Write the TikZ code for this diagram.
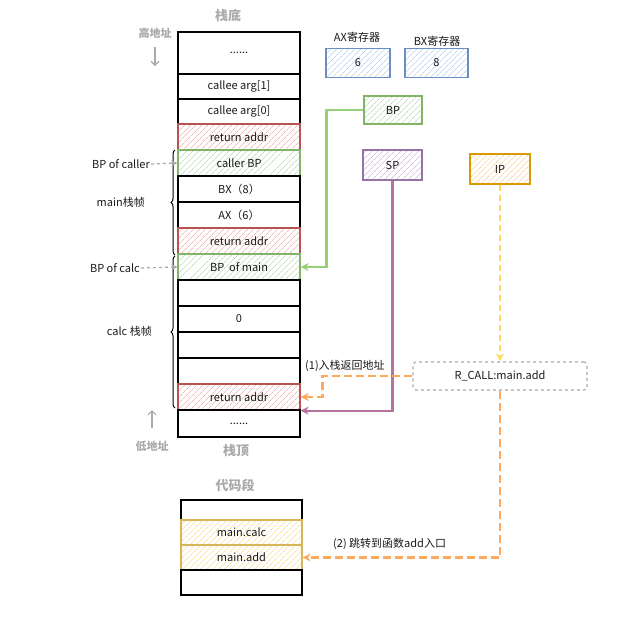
\documentclass[tikz,border=0pt]{standalone}
\usepackage{fontspec}
\setmainfont{Noto Sans CJK SC}
\usetikzlibrary{patterns.meta,arrows.meta,decorations.pathreplacing,calc}
\definecolor{redS}{HTML}{B85450}\definecolor{redF}{HTML}{F2B8B5}
\definecolor{grnS}{HTML}{82B366}\definecolor{grnF}{HTML}{C2DDBE}
\definecolor{bluS}{HTML}{6C8EBF}\definecolor{bluF}{HTML}{BCD3F3}
\definecolor{purS}{HTML}{9673A6}\definecolor{purF}{HTML}{D2C0DC}
\definecolor{orgS}{HTML}{D79B00}\definecolor{orgF}{HTML}{FFD3A8}
\definecolor{ylwS}{HTML}{D6B656}\definecolor{ylwF}{HTML}{F8E0A0}
\definecolor{txt}{HTML}{1A1A1A}
\definecolor{gry}{HTML}{AAAAAA}
\definecolor{arrOrg}{HTML}{FFA95E}
\definecolor{arrYlw}{HTML}{FFD966}
\definecolor{arrGrn}{HTML}{97D077}
\definecolor{arrPur}{HTML}{B5739D}
\tikzset{
  cell/.style={draw=black, line width=1.2pt, minimum width=122pt, inner sep=0pt, text=txt, font=\fontsize{11}{13}\selectfont},
  hatch/.style 2 args={draw=#1, pattern={Lines[angle=45,distance=4pt,line width=0.7pt]}, pattern color=#2},
  regbox/.style={line width=1.2pt, minimum width=60pt, minimum height=29pt, inner sep=0pt, text=txt, font=\fontsize{11}{13}\selectfont},
  lbl/.style={text=txt, font=\fontsize{11}{13}\selectfont, inner sep=1pt},
  glbl/.style={text=gry, font=\fontsize{11}{13}\selectfont\bfseries, inner sep=1pt},
  ttl/.style={text=gry, font=\fontsize{13}{15}\selectfont\bfseries, inner sep=1pt},
  tip/.style={-{Stealth[length=8pt,width=8pt,inset=2.5pt]}},
  bracestyle/.style={decorate, decoration={brace, amplitude=4pt, mirror}, draw=black, line width=1pt},
}
\begin{document}
\begin{tikzpicture}[x=1pt,y=-1pt]
\useasboundingbox[fill=white] (0,0) rectangle (619,622);

% titles
\node[ttl] (tbottom) at (228,16) {栈底};
\node[glbl] (hi) at (155,33) {高地址};
\coordinate (hiA) at (155,47);
\coordinate (hiB) at (155,66);
\draw[gry, line width=1.1pt, -{Straight Barb[length=4pt]}] (hiA) -- (hiB);
\node[glbl] (lo) at (152,446) {低地址};
\coordinate (loA) at (152,428);
\coordinate (loB) at (152,410);
\draw[gry, line width=1.1pt, -{Straight Barb[length=4pt]}] (loA) -- (loB);
\node[ttl] (ttop) at (236,451) {栈顶};
\node[ttl] (tcode) at (235,485) {代码段};

% stack
\node[cell, minimum height=42pt] (dots1) at (239,53) {......};
\node[cell, minimum height=25pt] (arg1) at (239,86.5) {callee arg[1]};
\node[cell, minimum height=25pt] (arg0) at (239,111.5) {callee arg[0]};
\node[cell, minimum height=26pt, hatch={redS}{redF}] (ret1) at (239,137) {return addr};
\node[cell, minimum height=26pt, hatch={grnS}{grnF}] (cbp) at (239,163) {caller BP};
\node[cell, minimum height=26pt] (bx) at (239,189) {BX（8）};
\node[cell, minimum height=26pt] (ax) at (239,215) {AX（6）};
\node[cell, minimum height=26pt, hatch={redS}{redF}] (ret2) at (239,241) {return addr};
\node[cell, minimum height=26pt, hatch={grnS}{grnF}] (bpmain) at (239,267) {BP\ \ of main};
\node[cell, minimum height=26pt] (e1) at (239,293) {};
\node[cell, minimum height=26pt] (zero) at (239,319) {0};
\node[cell, minimum height=26pt] (e2) at (239,345) {};
\node[cell, minimum height=26pt] (e3) at (239,371) {};
\node[cell, minimum height=26pt, hatch={redS}{redF}] (ret3) at (239,397) {return addr};
\node[cell, minimum height=27pt] (dots2) at (239,423.5) {......};

% code segment
\node[cell, minimum width=121pt, minimum height=20pt] (c0) at (241.5,510) {};
\node[cell, minimum width=121pt, minimum height=25pt, hatch={ylwS}{ylwF}] (mcalc) at (241.5,532.5) {main.calc};
\node[cell, minimum width=121pt, minimum height=25pt, hatch={ylwS}{ylwF}] (madd) at (241.5,557.5) {main.add};
\node[cell, minimum width=121pt, minimum height=25pt] (c3) at (241.5,582.5) {};

% registers
\node[lbl] (axl) at (357,37) {AX寄存器};
\node[regbox, minimum width=64pt, hatch={bluS}{bluF}] (axr) at (358,63) {6};
\node[lbl] (bxl) at (437,41) {BX寄存器};
\node[regbox, minimum width=63pt, hatch={bluS}{bluF}] (bxr) at (436.5,63) {8};
\node[regbox, minimum width=58pt, minimum height=28pt, hatch={grnS}{grnF}] (bp) at (393,110) {BP};
\node[regbox, minimum width=59pt, minimum height=30pt, hatch={purS}{purF}] (sp) at (392.5,165) {SP};
\node[regbox, minimum width=60pt, minimum height=30pt, hatch={orgS}{orgF}] (ip) at (500,169) {IP};
\node[draw=gry, dashed, rounded corners=3pt, line width=1.1pt, minimum width=174pt, minimum height=28pt, inner sep=0pt, text=txt, font=\fontsize{11}{13}\selectfont] (rcall) at (500,376) {R\_CALL:main.add};

% connectors
\draw[arrGrn, line width=2.2pt, tip] (bp.west) -- ++(-37,0) |- (bpmain.east);
\draw[arrPur, line width=2.2pt, tip] (sp.south) |- (ret3.south east);
\draw[arrYlw, line width=2.2pt, dash pattern=on 6pt off 4pt, tip] (ip.south) -- (rcall.north);
\draw[arrOrg, line width=2.2pt, dash pattern=on 8pt off 4pt, tip] (rcall.west) -- ++(-90,0) |- (ret3.east);
\draw[arrOrg, line width=2.2pt, dash pattern=on 8pt off 4pt, tip] (rcall.south) |- (madd.east);
\node[lbl, anchor=west] (l1) at (304,366) {(1)入栈返回地址};
\node[lbl, anchor=west] (l2) at (332,544) {(2) 跳转到函数add入口};

% braces and frame labels
\coordinate (bm1) at (175,150);
\coordinate (bm2) at (175,255);
\draw[bracestyle] (bm1) -- (bm2);
\node[lbl, anchor=east] (mainf) at (146,202) {main栈帧};
\coordinate (bc1) at (175,256);
\coordinate (bc2) at (175,408);
\draw[bracestyle] (bc1) -- (bc2);
\node[lbl, anchor=east] (calcf) at (153,331) {calc 栈帧};

\node[lbl, anchor=east] (bpcaller) at (151,164) {BP of caller};
\draw[gry, line width=1.2pt, dashed, -{Stealth[length=6pt,width=6pt]}] (bpcaller.east) -- (cbp.west);
\node[lbl, anchor=east] (bpcalc) at (141,268) {BP of calc};
\draw[gry, line width=1.2pt, dashed, -{Stealth[length=6pt,width=6pt]}] (bpcalc.east) -- (bpmain.west);
\end{tikzpicture}
\end{document}
